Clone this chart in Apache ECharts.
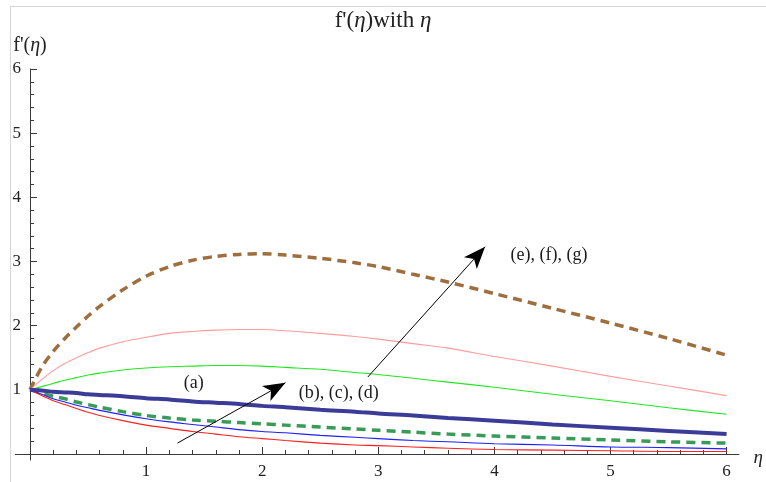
<!DOCTYPE html>
<html><head><meta charset="utf-8">
<script src="https://cdn.jsdelivr.net/npm/echarts@6/dist/echarts.min.js"></script>
<style>html,body{margin:0;padding:0;background:#fff}#c{width:766px;height:482px}</style>
</head><body><div id="c"></div>
<script>
// ---- data ----
const eta = [0, 0.1, 0.2, 0.3, 0.4, 0.5, 0.6, 0.8, 1.0, 1.2, 1.4, 1.6, 1.8, 2.0, 2.2, 2.5, 2.8, 3.0, 3.3, 3.6, 4.0, 4.5, 5.0, 5.5, 6.0];
const brownDashed = [1, 1.35, 1.6, 1.8, 1.98, 2.15, 2.3, 2.56, 2.77, 2.92, 3.02, 3.08, 3.11, 3.12, 3.1, 3.05, 2.98, 2.92, 2.8, 2.68, 2.5, 2.27, 2.04, 1.8, 1.54];
const pinkLine = [1, 1.16, 1.3, 1.41, 1.5, 1.58, 1.65, 1.75, 1.82, 1.88, 1.91, 1.93, 1.94, 1.94, 1.92, 1.88, 1.83, 1.79, 1.72, 1.65, 1.52, 1.37, 1.21, 1.06, 0.91];
const greenLine = [1, 1.05, 1.1, 1.15, 1.19, 1.23, 1.26, 1.31, 1.34, 1.36, 1.37, 1.38, 1.38, 1.37, 1.35, 1.32, 1.27, 1.24, 1.18, 1.12, 1.04, 0.93, 0.83, 0.72, 0.62];
const navyThick = [1, 0.99, 0.97, 0.96, 0.95, 0.93, 0.92, 0.9, 0.87, 0.85, 0.82, 0.8, 0.78, 0.75, 0.73, 0.69, 0.66, 0.63, 0.6, 0.56, 0.52, 0.46, 0.41, 0.36, 0.31];
const greenDashed = [1, 0.95, 0.9, 0.86, 0.81, 0.77, 0.73, 0.66, 0.6, 0.56, 0.53, 0.51, 0.49, 0.47, 0.45, 0.42, 0.39, 0.37, 0.34, 0.31, 0.28, 0.25, 0.22, 0.19, 0.17];
const blueLine = [1, 0.93, 0.86, 0.81, 0.76, 0.72, 0.68, 0.61, 0.55, 0.5, 0.46, 0.42, 0.38, 0.35, 0.33, 0.29, 0.26, 0.24, 0.21, 0.19, 0.16, 0.14, 0.11, 0.1, 0.08];
const redLine = [1, 0.91, 0.83, 0.77, 0.71, 0.65, 0.6, 0.52, 0.45, 0.4, 0.35, 0.31, 0.27, 0.24, 0.21, 0.17, 0.14, 0.13, 0.11, 0.09, 0.07, 0.06, 0.05, 0.04, 0.04];
const xTickLabels = [1, 2, 3, 4, 5, 6];
const yTickLabels = [1, 2, 3, 4, 5, 6];
// annotations (data coordinates)
const annotationTexts = ['(a)', '(b), (c), (d)', '(e), (f), (g)'];
const annotationCoords = [[1.41, 1.11], [2.66, 0.95], [4.47, 3.1]];
const arrowStarts = [[1.27, 0.17], [2.91, 1.2]];
const arrowEnds = [[2.2, 1.11], [3.92, 3.23]];
const axisExtent = { xFrom: -0.13, xTo: 6.11, yFrom: -0.1 };

// ---- chart ----
const FONT = '"Liberation Serif", "DejaVu Serif", serif';
const pairs = ys => eta.map((x, i) => [x, ys[i]]);
const chart = echarts.init(document.getElementById('c'), null, { renderer: 'canvas' });

function lineSeries(name, ys, color, width, type) {
  return {
    name, type: 'line', data: pairs(ys), showSymbol: false, symbol: 'none',
    smooth: 0.3, silent: true, animation: false,
    lineStyle: { color, width, type: type || 'solid', cap: 'butt' }
  };
}

const series = [
  lineSeries('brownDashed', brownDashed, '#9e6e3c', 3.5, [9, 6]),
  lineSeries('pinkLine', pinkLine, '#ff9c9c', 1.1),
  lineSeries('greenLine', greenLine, '#1fe81f', 1.1),
  lineSeries('greenDashed', greenDashed, '#3a9a58', 3.5, [9, 6]),
  lineSeries('blueLine', blueLine, '#1f1fff', 1.1),
  lineSeries('redLine', redLine, '#ff2020', 1.1),
  lineSeries('navyThick', navyThick, '#3b3b98', 4)
];
series[0].markLine = {
  silent: true, animation: false,
  lineStyle: { color: '#000', width: 1, type: 'solid' },
  symbolSize: [13, 22],
  label: { show: false },
  data: arrowStarts.map((s, i) => [
    { coord: s, symbol: 'none' },
    { coord: arrowEnds[i], symbol: 'arrow' }
  ])
};
series[0].markPoint = {
  silent: true, animation: false, symbol: 'circle', symbolSize: 0,
  data: annotationTexts.map((t, i) => ({
    coord: annotationCoords[i],
    label: { show: true, formatter: t, position: 'inside', color: '#1a1a1a', fontFamily: FONT, fontSize: 18 }
  }))
};

const labelFmt = ticks => v => (ticks.includes(v) ? String(v) : '');

chart.setOption({
  animation: false,
  backgroundColor: '#fff',
  title: {
    text: "{n|f'(}{i|η}{n|)with }{i|η}",
    left: 'center', top: 4,
    textStyle: {
      fontWeight: 'normal',
      rich: {
        n: { fontFamily: FONT, fontSize: 23, fontWeight: 'normal', color: '#222' },
        i: { fontFamily: FONT, fontSize: 23, fontWeight: 'normal', fontStyle: 'italic', color: '#222' }
      }
    }
  },
  grid: { left: 30, right: 36, top: 69, bottom: 28, containLabel: false },
  xAxis: {
    type: 'value', min: 0, max: 6, interval: 1,
    name: '{i|η}', nameLocation: 'end', nameGap: 27,
    nameTextStyle: { rich: { i: { fontFamily: FONT, fontSize: 19, fontStyle: 'italic', color: '#222' } }, verticalAlign: 'top', padding: [-6, 0, 0, 0] },
    axisLine: { show: true, onZero: true, lineStyle: { color: '#3a3a3a', width: 1 } },
    axisTick: { show: true, inside: true, length: 7, lineStyle: { color: '#3a3a3a' } },
    minorTick: { show: true, splitNumber: 5, length: 4, lineStyle: { color: '#3a3a3a' } },
    axisLabel: { margin: 9, fontFamily: FONT, fontSize: 17, color: '#222', formatter: labelFmt(xTickLabels) },
    splitLine: { show: false }
  },
  yAxis: {
    type: 'value', min: 0, max: 6, interval: 1,
    name: "{n|f'(}{i|η}{n|)}", nameLocation: 'end', nameGap: 13,
    nameTextStyle: { rich: {
      n: { fontFamily: FONT, fontSize: 20, color: '#222' },
      i: { fontFamily: FONT, fontSize: 20, fontStyle: 'italic', color: '#222' } } },
    axisLine: { show: true, onZero: true, lineStyle: { color: '#3a3a3a', width: 1 } },
    axisTick: { show: true, inside: true, length: 7, lineStyle: { color: '#3a3a3a' } },
    minorTick: { show: true, splitNumber: 5, length: 4, lineStyle: { color: '#3a3a3a' } },
    axisLabel: { margin: 9, fontFamily: FONT, fontSize: 17, color: '#222', formatter: labelFmt(yTickLabels) },
    splitLine: { show: false }
  },
  series
});

// frame + axis extensions beyond the 0..6 range, positioned via the chart's own scales
const toPx = p => chart.convertToPixel({ gridIndex: 0 }, p);
const o = toPx([0, 0]);
const l = toPx([axisExtent.xFrom, 0]);
const r = toPx([axisExtent.xTo, 0]);
const b = toPx([0, axisExtent.yFrom]);
const axStyle = { stroke: '#3a3a3a', lineWidth: 1 };
chart.setOption({
  graphic: [
    { type: 'rect', silent: true, z: -1, shape: { x: 10.5, y: 6.5, width: 900, height: 600 }, style: { fill: 'none', stroke: '#d6d6d6', lineWidth: 1 } },
    { type: 'line', silent: true, shape: { x1: l[0], y1: Math.round(o[1]) + 0.5, x2: o[0], y2: Math.round(o[1]) + 0.5 }, style: axStyle },
    { type: 'line', silent: true, shape: { x1: o[0], y1: Math.round(o[1]) + 0.5, x2: r[0], y2: Math.round(o[1]) + 0.5 }, style: axStyle },
    { type: 'line', silent: true, shape: { x1: Math.round(o[0]) + 0.5, y1: o[1], x2: Math.round(o[0]) + 0.5, y2: b[1] }, style: axStyle }
  ]
});
</script>
</body></html>
